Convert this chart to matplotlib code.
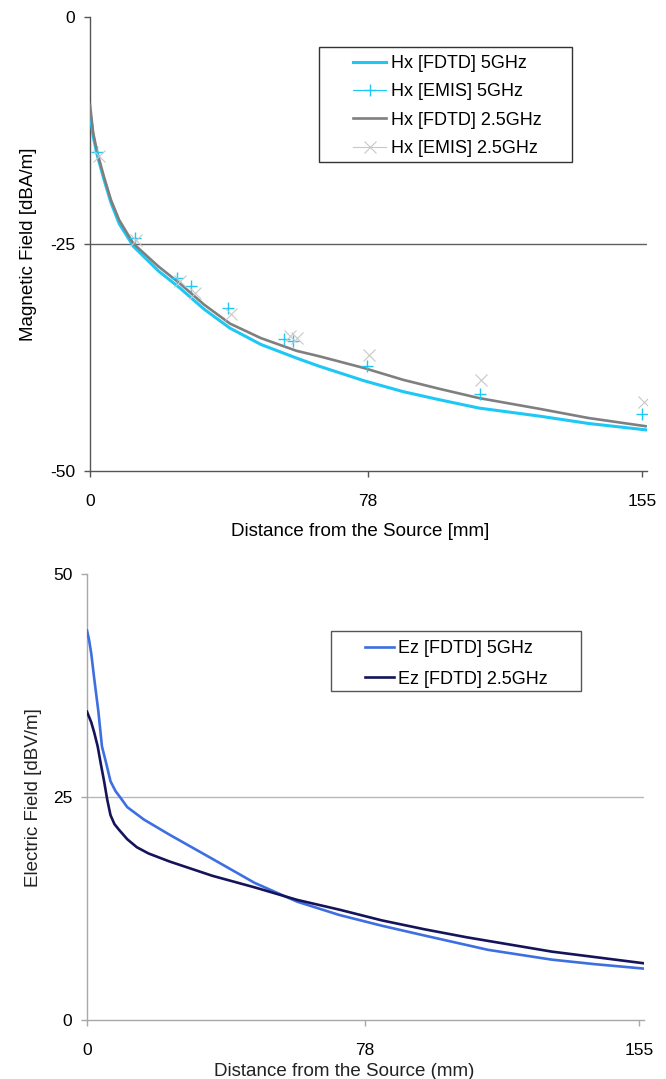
import matplotlib
matplotlib.use("Agg")
import matplotlib.pyplot as plt
from matplotlib.lines import Line2D
from matplotlib.patches import Rectangle

plt.rcParams['font.family'] = ['Liberation Sans', 'DejaVu Sans']
plt.rcParams['axes.unicode_minus'] = False

# magnetic field, FDTD curves [mm, dBA/m]
hx_x = [0, 0.9, 2.0, 3.9, 5.9, 8.2, 12.2, 19.2, 25.3, 32, 39.3, 48, 58, 64.4, 77, 88, 98.3, 109.2,
        126.4, 140, 156]
hx_fdtd_5 = [-10.6, -13.2, -15.2, -17.9, -20.5, -22.8, -25.3, -28.0, -29.9, -32.2, -34.3, -36.1, -37.6,
             -38.5, -40.1, -41.3, -42.2, -43.1, -44.0, -44.8, -45.5]
hx_fdtd_25 = [-9.7, -12.8, -14.9, -17.6, -20.2, -22.4, -25.0, -27.5, -29.4, -31.7, -33.8, -35.4, -36.8,
              -37.4, -38.7, -40.0, -41.0, -42.0, -43.2, -44.2, -45.1]

# magnetic field, EMIS points
emis5_x = [2.0, 12.5, 24.4, 28.5, 38.7, 54.6, 57.1, 77.9, 109.4, 155.0]
emis5_y = [-14.9, -24.4, -28.8, -29.7, -32.1, -35.5, -35.7, -38.5, -41.6, -43.8]
emis25_x = [2.6, 13.0, 25.2, 29.4, 39.5, 56.2, 58.0, 78.2, 109.8, 155.6]
emis25_y = [-15.3, -24.6, -29.1, -30.4, -32.7, -35.2, -35.4, -37.3, -40.0, -42.4]

# electric field, FDTD curves [mm, dBV/m]
ez5_x = [0, 0.6, 1.2, 2.0, 3.2, 4.2, 5.4, 6.6, 8.0, 9.5, 11.3, 16, 23.2, 35.2, 47.1, 59.0, 70.9, 82.8,
         94.8, 112.6, 130.5, 142.4, 156.2]
ez5_y = [43.7, 42.6, 41.1, 38.4, 34.6, 30.7, 28.8, 26.8, 25.7, 24.9, 23.9, 22.5, 20.8, 18.1, 15.4, 13.3,
         11.8, 10.6, 9.5, 7.9, 6.8, 6.3, 5.8]
ez25_x = [0, 1.2, 2.0, 3.0, 3.9, 4.8, 5.7, 6.6, 7.7, 8.9, 11.3, 14, 17.3, 23.2, 35.2, 47.1, 59.0, 70.9,
          82.8, 94.8, 106.7, 118.6, 130.5, 142.4, 156.2]
ez25_y = [34.6, 33.4, 32.3, 30.7, 28.7, 26.8, 24.7, 23.0, 22.0, 21.4, 20.3, 19.4, 18.7, 17.8, 16.2, 14.9,
          13.5, 12.4, 11.2, 10.2, 9.3, 8.5, 7.7, 7.1, 6.4]

xticks = [0, 78, 155]

W, H = 666, 1079
fig = plt.figure(figsize=(W / 100, H / 100), dpi=100)


def px_box(x0, y0, x1, y1):
    # pixel box (top-left origin) -> figure fraction rect
    return [x0 / W, 1 - y1 / H, (x1 - x0) / W, (y1 - y0) / H]


def style_axes(ax, axcol, gridcol, ylim, yticks, tlen):
    ax.set_xlim(0, 156.4)
    ax.set_ylim(*ylim)
    for s in ['top', 'right']:
        ax.spines[s].set_visible(False)
    for s in ['left', 'bottom']:
        ax.spines[s].set_color(axcol)
        ax.spines[s].set_linewidth(1.0)
    ax.set_xticks(xticks)
    ax.set_yticks(yticks)
    ax.tick_params(direction='out', length=tlen, width=1.0, color=axcol, labelsize=12.5, pad=6)
    ax.axhline(yticks[1], color=gridcol, lw=1.0, zorder=0)


# --- magnetic field ---
ax1 = fig.add_axes(px_box(90, 16.7, 647, 470.7))
style_axes(ax1, '#555555', '#606060', (-50, 0), [-50, -25, 0], 4.5)
ax1.tick_params(axis='x', pad=12)
ax1.plot(hx_x, hx_fdtd_5, color='#1ec8f5', lw=2.2, zorder=3)
ax1.plot(hx_x, hx_fdtd_25, color='#7f7f7f', lw=1.9, zorder=3)
ax1.plot(emis5_x, emis5_y, ls='none', marker='+', ms=9, mew=1.0, color='#1ec8f5', zorder=4)
ax1.plot(emis25_x, emis25_y, ls='none', marker='x', ms=8, mew=0.8, color='#c8c8c8', zorder=4)

fig.text(29 / W, 1 - 244 / H, 'Magnetic Field [dBA/m]', rotation=90, ha='center', va='center',
         fontsize=13.5)
fig.text(360 / W, 1 - 532 / H, 'Distance from the Source [mm]', ha='center', va='center', fontsize=13.5)

fig.patches.append(Rectangle((319 / W, 1 - 162 / H), 253 / W, 115 / H, transform=fig.transFigure,
                             facecolor='white', edgecolor='#333333', lw=1.0, zorder=5))
h1 = [Line2D([], [], color='#1ec8f5', lw=2.2),
      Line2D([], [], color='#1ec8f5', lw=0.8, marker='+', ms=9, mew=1.0),
      Line2D([], [], color='#7f7f7f', lw=1.9),
      Line2D([], [], color='#c8c8c8', lw=0.8, marker='x', ms=8, mew=0.8)]
lab1 = ['Hx [FDTD] 5GHz', 'Hx [EMIS] 5GHz', 'Hx [FDTD] 2.5GHz', 'Hx [EMIS] 2.5GHz']
leg1 = fig.legend(h1, lab1, loc='upper left', bbox_to_anchor=(353 / W, 1 - 55 / H), frameon=False,
                  fontsize=13, borderpad=0, borderaxespad=0, handlelength=1.85, handletextpad=0.25,
                  labelspacing=0.63)
leg1.set_zorder(6)

# --- electric field ---
ax2 = fig.add_axes(px_box(87, 574.3, 644, 1020.3))
style_axes(ax2, '#a8a8a8', '#b8b8b8', (0, 50), [0, 25, 50], 4.5)
ax2.tick_params(axis='x', pad=12)
ax2.plot(ez5_x, ez5_y, color='#3d6fe0', lw=1.9, zorder=3)
ax2.plot(ez25_x, ez25_y, color='#15145a', lw=1.9, zorder=3)

fig.text(34 / W, 1 - 798 / H, 'Electric Field [dBV/m]', rotation=90, ha='center', va='center',
         fontsize=13.5, color='#222222')
fig.text(344 / W, 1 - 1071 / H, 'Distance from the Source (mm)', ha='center', va='center',
         fontsize=13.5, color='#222222')

fig.patches.append(Rectangle((331 / W, 1 - 691 / H), 250 / W, 60 / H, transform=fig.transFigure,
                             facecolor='white', edgecolor='#555555', lw=1.0, zorder=5))
h2 = [Line2D([], [], color='#3d6fe0', lw=1.9), Line2D([], [], color='#15145a', lw=1.9)]
leg2 = fig.legend(h2, ['Ez [FDTD] 5GHz', 'Ez [FDTD] 2.5GHz'], loc='upper left',
                  bbox_to_anchor=(365 / W, 1 - 640 / H), frameon=False, fontsize=13, borderpad=0,
                  borderaxespad=0, handlelength=1.6, handletextpad=0.2, labelspacing=0.75)
leg2.set_zorder(6)

fig.savefig('out.png', dpi=100)
